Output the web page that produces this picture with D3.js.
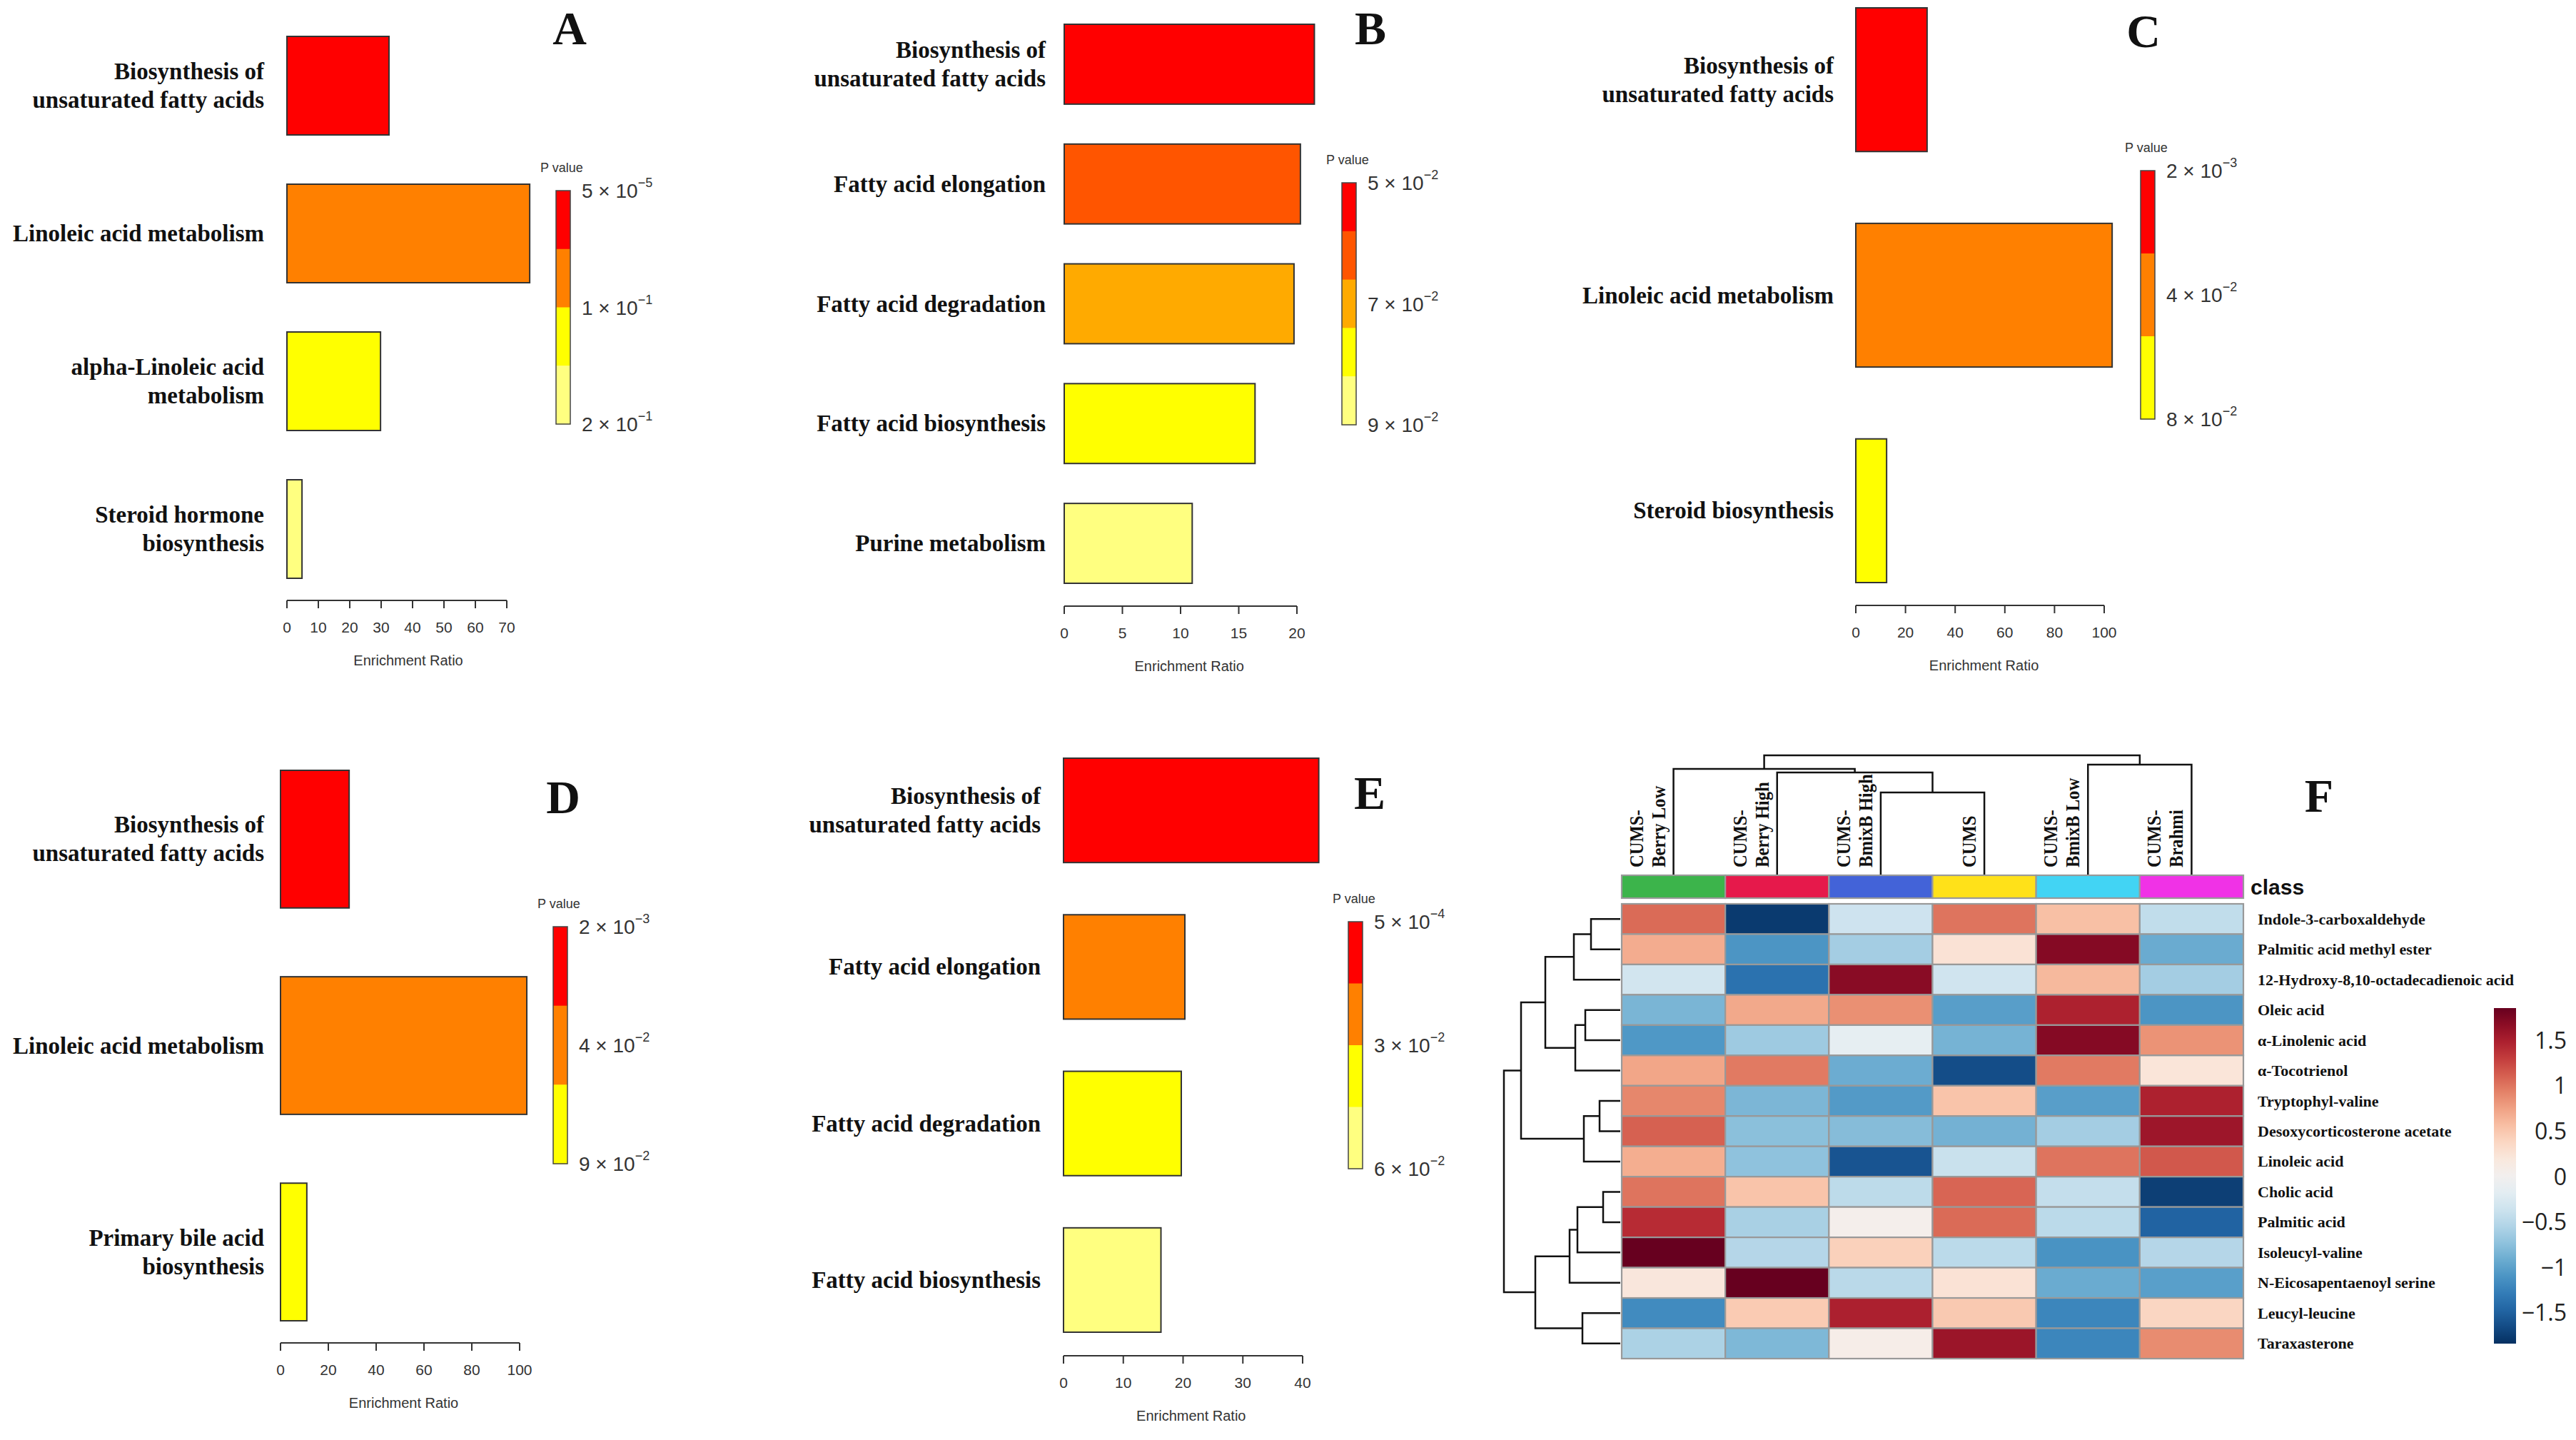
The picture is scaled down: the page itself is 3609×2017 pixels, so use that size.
<!DOCTYPE html>
<html lang="en">
<head>
    <meta charset="UTF-8">
    <title>Enrichment panels A-E and heatmap F</title>
    <script src="https://cdn.jsdelivr.net/npm/d3@7"></script>
    <style>
        body { margin: 0; background: #fff; }
        svg { display: block; }
        .term { font-family: "Liberation Serif", "Times New Roman", serif; font-weight: bold; font-size: 33px; fill: #111; }
        .tick-label { font-family: "Liberation Sans", Arial, sans-serif; font-size: 21px; fill: #333; }
        .axis-title { font-family: "Liberation Sans", Arial, sans-serif; font-size: 20px; fill: #333; }
        .p-title { font-family: "Liberation Sans", Arial, sans-serif; font-size: 18px; fill: #333; }
        .p-label { font-family: "Liberation Sans", Arial, sans-serif; font-size: 28px; fill: #333; }
        .letter { font-family: "Liberation Serif", "Times New Roman", serif; font-weight: bold; font-size: 66px; fill: #111; }
        .row-label { font-family: "Liberation Serif", "Times New Roman", serif; font-weight: bold; font-size: 22px; fill: #111; }
        .col-label { font-family: "Liberation Serif", "Times New Roman", serif; font-weight: bold; font-size: 28px; fill: #111; }
        .class-label { font-family: "Liberation Sans", Arial, sans-serif; font-weight: bold; font-size: 30px; fill: #111; }
        .scale-label { font-family: "Open Sans", "Liberation Sans", sans-serif; font-size: 32px; fill: #222; }
    </style>
</head>
<body>
<svg id="fig" width="3609" height="2017"></svg>
<script>
    // ---- panel A ----
    const termsA = [["Biosynthesis of", "unsaturated fatty acids"], ["Linoleic acid metabolism"],
                    ["alpha-Linoleic acid", "metabolism"], ["Steroid hormone", "biosynthesis"]];
    const ratioA = [32.5, 77.3, 29.8, 4.8];
    const pLabelsA = [["5", "5"], ["1", "1"], ["2", "1"]];
    const ticksA = [0, 10, 20, 30, 40, 50, 60, 70];

    // ---- panel B ----
    const termsB = [["Biosynthesis of", "unsaturated fatty acids"], ["Fatty acid elongation"],
                    ["Fatty acid degradation"], ["Fatty acid biosynthesis"], ["Purine metabolism"]];
    const ratioB = [21.5, 20.3, 19.75, 16.4, 11.0];
    const pLabelsB = [["5", "2"], ["7", "2"], ["9", "2"]];
    const ticksB = [0, 5, 10, 15, 20];

    // ---- panel C ----
    const termsC = [["Biosynthesis of", "unsaturated fatty acids"], ["Linoleic acid metabolism"],
                    ["Steroid biosynthesis"]];
    const ratioC = [28.7, 103.2, 12.4];
    const pLabelsC = [["2", "3"], ["4", "2"], ["8", "2"]];
    const ticksC = [0, 20, 40, 60, 80, 100];

    // ---- panel D ----
    const termsD = [["Biosynthesis of", "unsaturated fatty acids"], ["Linoleic acid metabolism"],
                    ["Primary bile acid", "biosynthesis"]];
    const ratioD = [28.7, 103, 11];
    const pLabelsD = [["2", "3"], ["4", "2"], ["9", "2"]];
    const ticksD = [0, 20, 40, 60, 80, 100];

    // ---- panel E ----
    const termsE = [["Biosynthesis of", "unsaturated fatty acids"], ["Fatty acid elongation"],
                    ["Fatty acid degradation"], ["Fatty acid biosynthesis"]];
    const ratioE = [42.7, 20.3, 19.7, 16.3];
    const pLabelsE = [["5", "4"], ["3", "2"], ["6", "2"]];
    const ticksE = [0, 10, 20, 30, 40];

    // ---- panel F (heatmap) ----
    const metabolites = ["Indole-3-carboxaldehyde", "Palmitic acid methyl ester", "12-Hydroxy-8,10-octadecadienoic acid",
        "Oleic acid", "α-Linolenic acid", "α-Tocotrienol", "Tryptophyl-valine", "Desoxycorticosterone acetate",
        "Linoleic acid", "Cholic acid", "Palmitic acid", "Isoleucyl-valine", "N-Eicosapentaenoyl serine",
        "Leucyl-leucine", "Taraxasterone"];
    const groups = [["CUMS-", "Berry Low"], ["CUMS-", "Berry High"], ["CUMS-", "BmixB High"],
                    ["CUMS"], ["CUMS-", "BmixB Low"], ["CUMS-", "Brahmi"]];
    const zScores = [
        [1.05, -1.78, -0.36, 1.00, 0.55, -0.45],
        [0.68, -1.10, -0.63, 0.25, 1.70, -0.93],
        [-0.33, -1.38, 1.68, -0.35, 0.60, -0.63],
        [-0.85, 0.70, 0.85, -1.03, 1.47, -1.10],
        [-1.08, -0.66, -0.15, -0.87, 1.70, 0.83],
        [0.72, 0.97, -0.92, -1.65, 0.97, 0.22],
        [0.90, -0.84, -1.06, 0.52, -1.03, 1.47],
        [1.10, -0.76, -0.79, -0.88, -0.63, 1.57],
        [0.67, -0.74, -1.60, -0.40, 1.00, 1.15],
        [1.00, 0.52, -0.48, 1.08, -0.43, -1.75],
        [1.40, -0.60, 0.05, 1.05, -0.49, -1.49],
        [1.85, -0.53, 0.42, -0.49, -1.12, -0.53],
        [0.20, 1.85, -0.50, 0.25, -0.93, -1.02],
        [-1.18, 0.47, 1.48, 0.48, -1.22, 0.38],
        [-0.58, -0.83, 0.08, 1.58, -1.22, 0.87]
    ];
    // hclust-style merges: negative = leaf (1-based), positive = earlier merge; third entry = height
    const rowMerges = [[-1, -2, 4.1], [1, -3, 6.5], [-4, -5, 4.9], [3, -6, 6.3], [2, 4, 10.5],
                       [-7, -8, 2.9], [6, -9, 5.1], [5, 7, 13.9], [-10, -11, 2.4], [9, -12, 6.0],
                       [10, -13, 7.1], [-14, -15, 5.3], [11, 12, 11.9], [8, 13, 16.3]];
    const colMerges = [[-3, -4, 11.5], [-2, 1, 14.3], [-1, 2, 14.8], [-5, -6, 15.4], [3, 4, 16.7]];
    const scaleTicks = [-1.5, -1, -0.5, 0, 0.5, 1, 1.5];

    const classColors = ["#3CB44B", "#E6194B", "#4363D8", "#FFE119", "#42D4F4", "#F032E6"];

    // R's heat.colors(n)
    function heatColors(n) {
        const j = Math.floor(n / 4), i = n - j;
        const out = [];
        for (let k = 0; k < i; k++) out.push(d3.hsl(60 * k / (i - 1), 1, 0.5).formatHex());
        for (let k = 0; k < j; k++) {
            const s = j === 1 ? 0.5 : (1 - 1 / (2 * j)) - k * ((1 - 1 / j) / (j - 1));
            // hsv(1/6, s, 1) -> rgb
            out.push(d3.rgb(255, 255, Math.round(255 * (1 - s))).formatHex());
        }
        return out;
    }

    const svg = d3.select("#fig");
    svg.append("rect").attr("width", 3609).attr("height", 2017).attr("fill", "#fff");

    const panels = [
        { letter: "A", terms: termsA, ratio: ratioA, pLabels: pLabelsA, ticks: ticksA,
          x0: 402, x1: 710, top: 51, bottom: 810, axisY: 841, labelX: 370,
          legX: 779, legTop: 267, legBottom: 594, letterX: 798, letterY: 62 },
        { letter: "B", terms: termsB, ratio: ratioB, pLabels: pLabelsB, ticks: ticksB,
          x0: 1491, x1: 1817, top: 34, bottom: 817, axisY: 849, labelX: 1465,
          legX: 1880, legTop: 256, legBottom: 595, letterX: 1920, letterY: 62 },
        { letter: "C", terms: termsC, ratio: ratioC, pLabels: pLabelsC, ticks: ticksC,
          x0: 2600, x1: 2948, top: 11, bottom: 816, axisY: 848, labelX: 2569,
          legX: 2999, legTop: 239, legBottom: 587, letterX: 3003, letterY: 66 },
        { letter: "D", terms: termsD, ratio: ratioD, pLabels: pLabelsD, ticks: ticksD,
          x0: 393, x1: 728, top: 1079, bottom: 1850, axisY: 1881, labelX: 370,
          legX: 775, legTop: 1298, legBottom: 1630, letterX: 789, letterY: 1139 },
        { letter: "E", terms: termsE, ratio: ratioE, pLabels: pLabelsE, ticks: ticksE,
          x0: 1490, x1: 1825, top: 1062, bottom: 1866, axisY: 1899, labelX: 1458,
          legX: 1889, legTop: 1291, legBottom: 1637, letterX: 1919, letterY: 1133 }
    ];

    panels.forEach(p => {
        const g = svg.append("g");
        const n = p.terms.length;
        const colors = heatColors(n);
        const x = d3.scaleLinear().domain([0, d3.max(p.ticks)]).range([p.x0, p.x1]);
        const y = d3.scaleBand().domain(d3.range(n)).range([p.top, p.bottom]).paddingInner(1 / 3).paddingOuter(0);

        g.selectAll("rect.bar").data(p.ratio).enter().append("rect")
            .attr("class", "bar")
            .attr("x", x(0))
            .attr("y", (d, i) => y(i))
            .attr("width", d => x(d) - x(0))
            .attr("height", y.bandwidth())
            .attr("fill", (d, i) => colors[i])
            .attr("stroke", "#333")
            .attr("stroke-width", 2);

        // pathway names
        const lh = 40;
        p.terms.forEach((lines, i) => {
            const cy = y(i) + y.bandwidth() / 2;
            const t = g.append("text").attr("class", "term").attr("text-anchor", "end");
            lines.forEach((line, k) => {
                t.append("tspan")
                    .attr("x", p.labelX)
                    .attr("y", cy + (k - (lines.length - 1) / 2) * lh)
                    .attr("dominant-baseline", "central")
                    .text(line);
            });
        });

        // x axis, R style
        const ax = g.append("g").attr("transform", `translate(0,${p.axisY})`);
        ax.append("line").attr("x1", x(p.ticks[0])).attr("x2", x(d3.max(p.ticks)))
            .attr("stroke", "#333").attr("stroke-width", 2);
        ax.selectAll("line.tk").data(p.ticks).enter().append("line")
            .attr("class", "tk")
            .attr("x1", d => x(d)).attr("x2", d => x(d))
            .attr("y1", 0).attr("y2", 11)
            .attr("stroke", "#333").attr("stroke-width", 2);
        ax.selectAll("text").data(p.ticks).enter().append("text")
            .attr("class", "tick-label")
            .attr("x", d => x(d)).attr("y", 37)
            .attr("text-anchor", "middle").attr("dominant-baseline", "central")
            .text(d => d);
        g.append("text").attr("class", "axis-title")
            .attr("x", (x(0) + x(d3.max(p.ratio))) / 2).attr("y", p.axisY + 84)
            .attr("text-anchor", "middle").attr("dominant-baseline", "central")
            .text("Enrichment Ratio");

        // P value legend
        const ly = d3.scaleBand().domain(d3.range(n)).range([p.legTop, p.legBottom]);
        g.append("text").attr("class", "p-title")
            .attr("x", p.legX - 22).attr("y", p.legTop - 32).attr("dominant-baseline", "central")
            .text("P value");
        g.selectAll("rect.leg").data(colors).enter().append("rect")
            .attr("class", "leg")
            .attr("x", p.legX).attr("y", (d, i) => ly(i))
            .attr("width", 20).attr("height", ly.bandwidth() + 0.5)
            .attr("fill", d => d);
        g.append("rect").attr("x", p.legX).attr("y", p.legTop)
            .attr("width", 20).attr("height", p.legBottom - p.legTop)
            .attr("fill", "none").attr("stroke", "#444").attr("stroke-width", 1.5);
        const labY = [p.legTop, (p.legTop + p.legBottom) / 2, p.legBottom];
        p.pLabels.forEach((lab, k) => {
            const t = g.append("text").attr("class", "p-label")
                .attr("x", p.legX + 36).attr("y", labY[k]).attr("dominant-baseline", "central");
            t.append("tspan").text(`${lab[0]} × 10`);
            t.append("tspan").attr("dy", -11).attr("font-size", "18px").text(`−${lab[1]}`);
        });

        g.append("text").attr("class", "letter")
            .attr("x", p.letterX).attr("y", p.letterY).attr("text-anchor", "middle")
            .text(p.letter);
    });

    // ---------------- heatmap F ----------------
    const hm = svg.append("g");
    const cx = d3.scaleBand().domain(d3.range(groups.length)).range([2272, 3143]);
    const ry = d3.scaleBand().domain(d3.range(metabolites.length)).range([1266, 1903]);
    const zMax = 1.85;
    const zColor = d3.scaleDiverging(t => d3.interpolateRdBu(1 - t)).domain([-zMax, 0, zMax]);

    zScores.forEach((row, r) => {
        hm.selectAll(null).data(row).enter().append("rect")
            .attr("x", (d, c) => cx(c)).attr("y", ry(r))
            .attr("width", cx.bandwidth()).attr("height", ry.bandwidth())
            .attr("fill", d => zColor(d))
            .attr("stroke", "#999").attr("stroke-width", 2.2);
    });

    // class annotation bar
    hm.selectAll("rect.cls").data(groups).enter().append("rect")
        .attr("class", "cls")
        .attr("x", (d, c) => cx(c)).attr("y", 1226)
        .attr("width", cx.bandwidth()).attr("height", 32)
        .attr("fill", (d, c) => classColors[c])
        .attr("stroke", "#999").attr("stroke-width", 2.2);
    hm.append("text").attr("class", "class-label").attr("x", 3153).attr("y", 1253).text("class");

    // row labels
    hm.selectAll("text.row-label").data(metabolites).enter().append("text")
        .attr("class", "row-label")
        .attr("x", 3163).attr("y", (d, i) => ry(i) + ry.bandwidth() / 2)
        .attr("dominant-baseline", "central")
        .text(d => d);

    // dendrograms
    function drawDendro(merges, leafPos, hScale, vertical) {
        const nodes = [];
        const get = id => id < 0 ? { p: leafPos(-id - 1), h: 0 } : nodes[id - 1];
        const line = d3.line();
        merges.forEach(([a, b, h]) => {
            const A = get(a), B = get(b);
            const pts = [[A.p, A.h], [A.p, h], [B.p, h], [B.p, B.h]]
                .map(([pp, hh]) => vertical ? [pp, hScale(hh)] : [hScale(hh), pp]);
            hm.append("path").attr("d", line(pts))
                .attr("fill", "none").attr("stroke", "#111").attr("stroke-width", 2.5);
            nodes.push({ p: (A.p + B.p) / 2, h });
        });
    }
    const rowH = d3.scaleLinear().domain([0, d3.max(rowMerges, d => d[2])]).range([2270, 2107]);
    drawDendro(rowMerges, i => ry(i) + ry.bandwidth() / 2, rowH, false);
    const colH = d3.scaleLinear().domain([0, d3.max(colMerges, d => d[2])]).range([1225, 1058]);
    drawDendro(colMerges, i => cx(i) + cx.bandwidth() / 2, colH, true);

    // column labels (rotated, over the dendrogram)
    groups.forEach((lines, c) => {
        const center = cx(c) + cx.bandwidth() / 2;
        lines.forEach((line, k) => {
            const bx = center - 12 - 31 * (lines.length - 1 - k);
            hm.append("text").attr("class", "col-label")
                .attr("transform", `translate(${bx},1215) rotate(-90) scale(0.88,1)`)
                .attr("text-anchor", "start")
                .text(line);
        });
    });

    // colour key
    const keyY = d3.scaleLinear().domain([-zMax, zMax]).range([1882, 1412]);
    const grad = svg.append("defs").append("linearGradient")
        .attr("id", "zgrad").attr("x1", 0).attr("y1", 1).attr("x2", 0).attr("y2", 0);
    d3.range(0, 1.0001, 0.05).forEach(t => {
        grad.append("stop").attr("offset", t).attr("stop-color", zColor(-zMax + 2 * zMax * t));
    });
    hm.append("rect").attr("x", 3494).attr("y", keyY(zMax))
        .attr("width", 31).attr("height", keyY(-zMax) - keyY(zMax))
        .attr("fill", "url(#zgrad)");
    hm.selectAll("text.scale-label").data(scaleTicks).enter().append("text")
        .attr("class", "scale-label")
        .attr("x", 3596).attr("y", d => keyY(d))
        .attr("text-anchor", "end").attr("dominant-baseline", "central")
        .text(d => d < 0 ? "−" + Math.abs(d) : d);

    svg.append("text").attr("class", "letter")
        .attr("x", 3249).attr("y", 1137).attr("text-anchor", "middle").text("F");
</script>
</body>
</html>
